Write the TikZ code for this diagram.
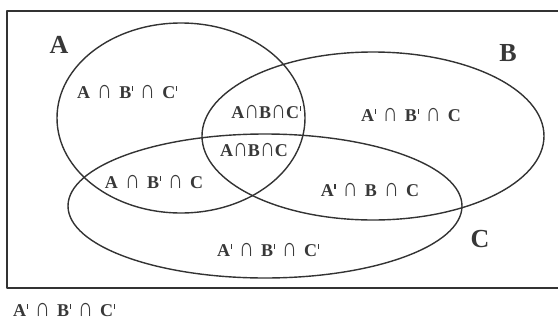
\documentclass[tikz,border=0pt]{standalone}
\usepackage{fontspec}
\setmainfont{Liberation Serif}
\newcommand{\comp}{\kern0.6pt\rule[0.42em]{1.1pt}{0.28em}}
\newcommand{\capsym}{\scalebox{1.15}[1.45]{∩}}
\newcommand{\sect}{\hspace{0.4em}\capsym\hspace{0.4em}}
\begin{document}
\begin{tikzpicture}[x=1pt, y=-1pt, line join=round, line cap=round,
		set/.style={draw=black!80, line width=1.4pt},
		region/.style={text=black!78, inner sep=1pt, font=\bfseries\fontsize{18}{18}\selectfont},
		setname/.style={text=black!78, inner sep=1pt, font=\bfseries\fontsize{26}{26}\selectfont}]
		\useasboundingbox (0,0) rectangle (558,322);
		\clip (0,0) rectangle (558,322);
		% universal set
		\draw[set] (7,11) rectangle (575,288);
		% the three sets
		\draw[set] (181,118) ellipse[x radius=124, y radius=95];
		\draw[set] (373,136) ellipse[x radius=171, y radius=84];
		\draw[set] (265,206) ellipse[x radius=197, y radius=72];
		\path
		node[setname] (nameA) at (59,45) {A}
		node[setname] (nameB) at (508,53) {B}
		node[setname] (nameC) at (480,239) {C};
		\path
		node[region] (aOnly) at (127,92) {A\sect B\comp\sect C\comp}
		node[region] (abNotc) at (266,112) {A\capsym B\capsym C\comp}
		node[region] (bOnly) at (411,115) {A\comp\sect B\comp\sect C}
		node[region] (abc) at (254,150) {A\capsym B\capsym C}
		node[region] (acNotb) at (154,182) {A\sect B\comp\sect C}
		node[region] (bcNota) at (370,190) {A\comp\sect B\sect C}
		node[region] (cOnly) at (268,250) {A\comp\sect B\comp\sect C\comp}
		node[region] (none) at (64,310) {A\comp\sect B\comp\sect C\comp};
	\end{tikzpicture}
\end{document}
